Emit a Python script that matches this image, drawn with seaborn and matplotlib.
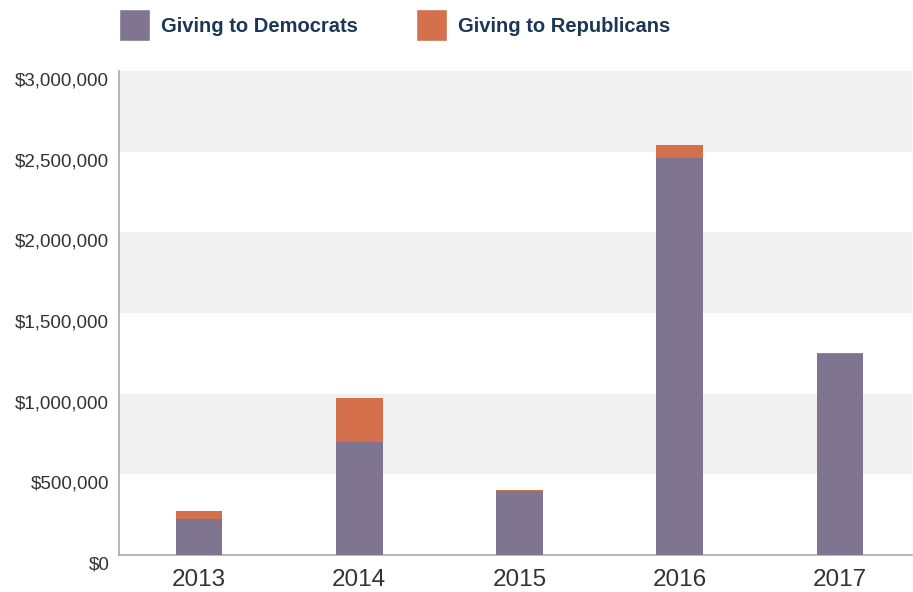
import matplotlib
matplotlib.use("Agg")
import matplotlib.pyplot as plt
import seaborn as sns
import pandas as pd
from matplotlib.patches import Patch
from matplotlib.ticker import FuncFormatter
from matplotlib.transforms import ScaledTranslation

years = ["2013", "2014", "2015", "2016", "2017"]
democrats = [223000, 700000, 395000, 2461000, 1247000]
republicans = [50000, 273000, 8000, 80000, 5000]
yticks = [0, 500000, 1000000, 1500000, 2000000, 2500000, 3000000]

DEM_C = "#7f7590"
REP_C = "#d4704b"
TEXT_C = "#1c3657"

sns.set_theme(style="white")
plt.rcParams['font.family'] = ['Liberation Sans', 'DejaVu Sans']

df = pd.DataFrame({"year": years, "dem": democrats, "rep": republicans})
df["total"] = df["dem"] + df["rep"]

fig = plt.figure(figsize=(9.13, 5.92), dpi=100)
ax = fig.add_axes([119/913, 37/592, (912-119)/913, (555-71)/592])

for lo in [500000, 1500000, 2500000]:
    ax.axhspan(lo, lo + 500000, color="#eff0ef", zorder=0, lw=0)

sns.barplot(data=df, x="year", y="total", color=REP_C, width=0.29,
            saturation=1, ax=ax, zorder=2, linewidth=0, edgecolor="none")
sns.barplot(data=df, x="year", y="dem", color=DEM_C, width=0.29,
            saturation=1, ax=ax, zorder=3, linewidth=0, edgecolor="none")

ax.set_xlim(-0.5, 4.45)
ax.set_ylim(0, 3000000)
ax.set_yticks(yticks)
ax.yaxis.set_major_formatter(FuncFormatter(lambda v, p: "${:,.0f}".format(v)))
ax.set_xlabel("")
ax.set_ylabel("")
ax.tick_params(axis="y", labelsize=13.5, labelcolor="#333333", length=0, pad=7)
ax.tick_params(axis="x", labelsize=17.5, labelcolor="#333333", length=0, pad=10)
off = ScaledTranslation(0, -8/100, fig.dpi_scale_trans)
for lab in ax.get_yticklabels():
    lab.set_transform(lab.get_transform() + off)
for s in ["top", "right"]:
    ax.spines[s].set_visible(False)
for s in ["left", "bottom"]:
    ax.spines[s].set_color("#aaaaaa")
    ax.spines[s].set_linewidth(1.2)

handles = [Patch(facecolor=DEM_C, label="Giving to Democrats"),
           Patch(facecolor=REP_C, label="Giving to Republicans")]
leg = fig.legend(handles=handles, loc="upper left", bbox_to_anchor=(119/913, 1 - 9/592),
                 ncol=2, frameon=False, handlelength=1.55, handleheight=2.1,
                 handletextpad=0.55, columnspacing=2.85, borderpad=0, borderaxespad=0,
                 prop={"size": 14.5, "weight": "bold"})
for t in leg.get_texts():
    t.set_color(TEXT_C)

fig.savefig("out.png", dpi=100)
